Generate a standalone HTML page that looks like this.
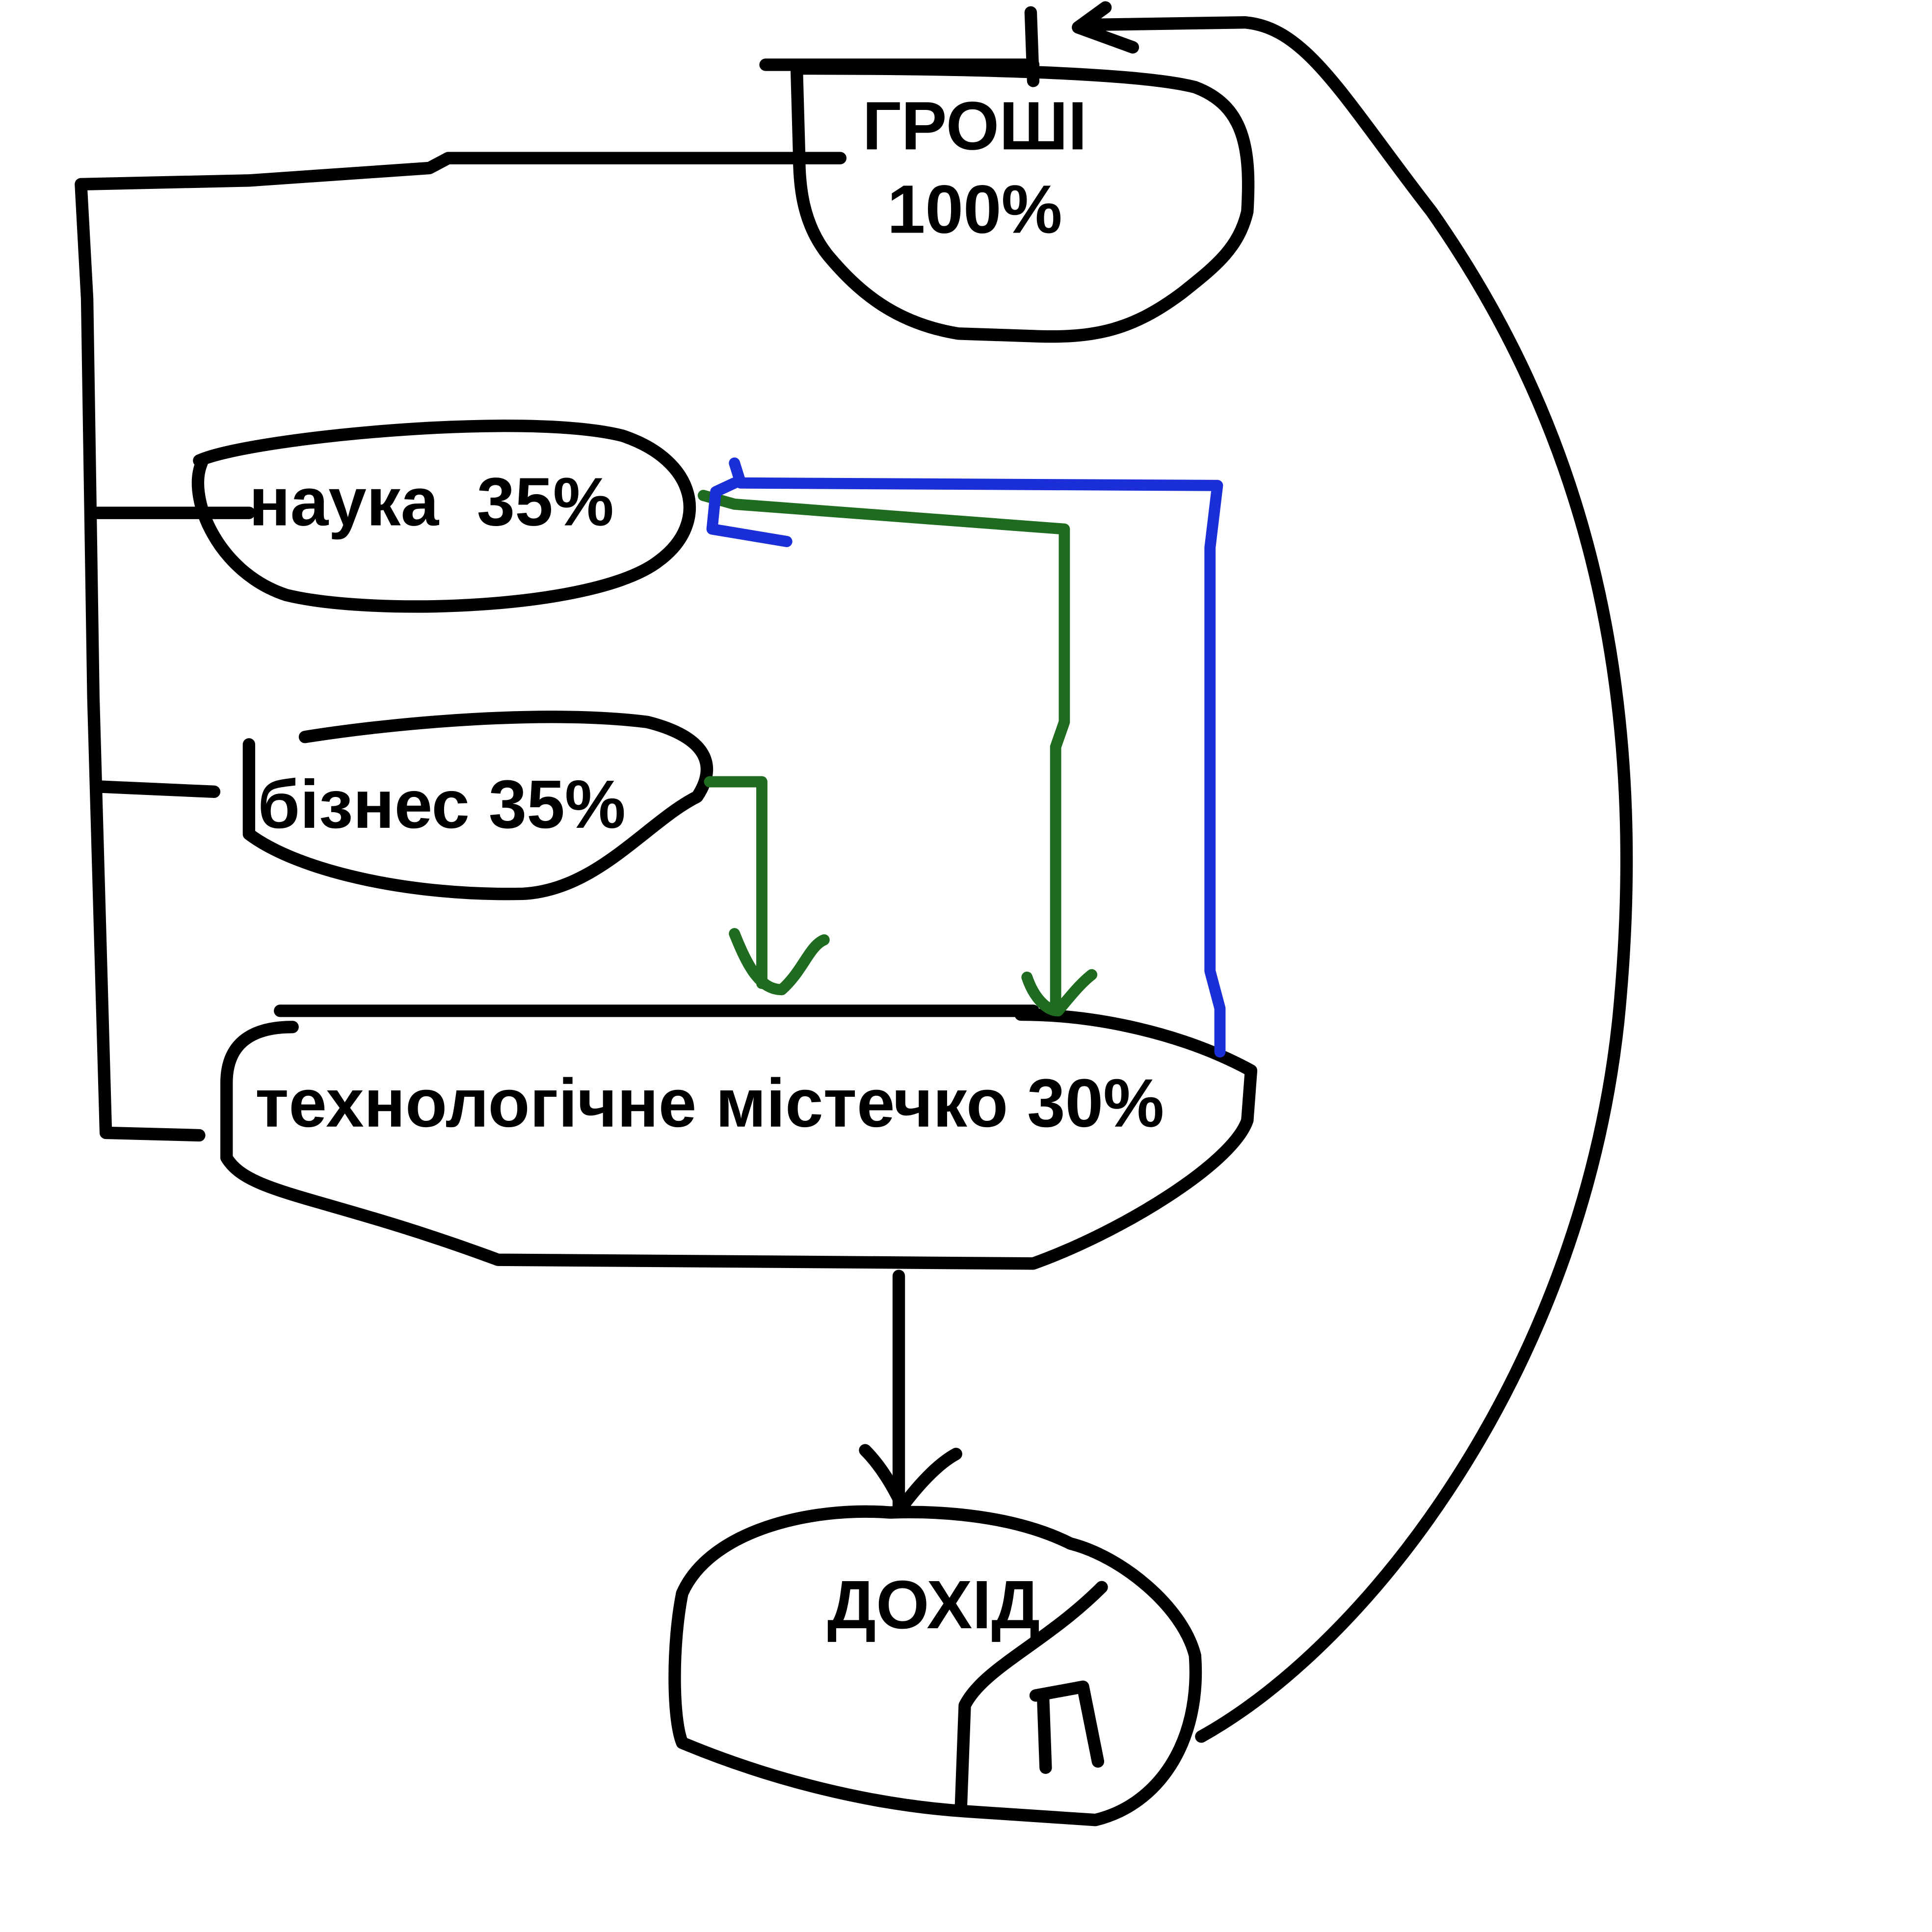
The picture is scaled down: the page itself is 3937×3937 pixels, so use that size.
<!DOCTYPE html>
<html><head><meta charset="utf-8"><style>
html,body{margin:0;padding:0;background:#fff;}
svg{display:block;}
text{font-family:"Liberation Sans",sans-serif;font-weight:bold;fill:#000;}
</style></head><body>
<svg width="3937" height="3937" viewBox="0 0 1552 1552" xmlns="http://www.w3.org/2000/svg">
<rect width="1552" height="1552" fill="#fff"/>
<g fill="none" stroke="#000" stroke-width="10" stroke-linecap="round" stroke-linejoin="round">
<path d="M615,52 L830,52"/>
<path d="M640,55 C700,55 900,55 960,70 C1000,85 1005,120 1002,170 C995,200 975,215 950,235 C910,265 880,272 830,270 L770,268 C720,260 690,235 665,205 C645,180 642,150 642,125 L640,55"/>
<path d="M828,10 L830,65"/>
<path d="M888,6 L866,22 L910,38"/>
<path d="M965,1395 C1100,1320 1270,1100 1300,820 C1330,520 1255,320 1150,170 C1080,80 1050,22 1000,18 L870,20"/>
<path d="M675,127 L360,127 L345,135 L200,145 L65,148 L70,240 L75,560 L85,910 L160,912"/>
<path d="M160,370 C200,352 420,330 500,350 C560,370 570,420 530,450 C480,490 300,495 230,478 C175,460 150,400 162,372"/>
<path d="M78,412 L200,412"/>
<path d="M200,598 L200,670 C240,700 330,720 420,718 C480,715 520,660 560,640 C580,610 560,590 520,580 C440,570 320,580 245,592"/>
<path d="M82,632 L172,636"/>
<path d="M225,812 L830,812"/>
<path d="M235,825 C200,825 182,840 182,870 L182,930 C200,960 260,960 400,1012 L830,1015 C900,990 990,935 1002,900 L1005,860 C950,830 880,815 820,815"/>
<path d="M722,1025 L722,1210"/>
<path d="M695,1165 C710,1180 720,1200 725,1210 C740,1190 755,1175 768,1168"/>
<path d="M715,1215 C650,1210 570,1230 548,1280 C540,1320 540,1380 548,1400 C620,1430 700,1450 775,1455 L880,1462 C930,1450 965,1400 960,1330 C950,1290 900,1250 860,1240 C800,1210 720,1215 715,1215 Z"/>
<path d="M885,1275 C840,1320 790,1340 775,1370 L772,1450"/>
<path d="M838,1365 L840,1420"/>
<path d="M832,1362 L870,1355 L882,1415"/>
</g>
<g fill="none" stroke="#1f6b1f" stroke-width="9" stroke-linecap="round" stroke-linejoin="round">
<path d="M565,398 L590,405 L855,425 L855,580 L848,600 L848,810"/>
<path d="M825,785 C830,800 840,812 850,812 C860,800 868,790 877,783"/>
<path d="M570,628 L612,628 L612,790"/>
<path d="M590,750 C600,775 610,795 628,795 C645,780 650,760 662,755"/>
</g>
<g fill="none" stroke="#1a2fd8" stroke-width="9" stroke-linecap="round" stroke-linejoin="round">
<path d="M980,845 L980,810 L972,780 L972,440 L978,390 L595,388 L590,372"/>
<path d="M590,388 L575,395 L572,425 L632,435"/>
</g>
<text x="783" y="120" font-size="55" text-anchor="middle">ГРОШІ</text>
<text x="783" y="187" font-size="55" text-anchor="middle">100%</text>
<text x="200" y="422" font-size="55" xml:space="preserve">наука  35%</text>
<text x="207" y="665" font-size="55">бізнес 35%</text>
<text x="205" y="905" font-size="55">технологічне містечко 30%</text>
<text x="750" y="1308" font-size="55" text-anchor="middle">ДОХІД</text>
</svg>
</body></html>
